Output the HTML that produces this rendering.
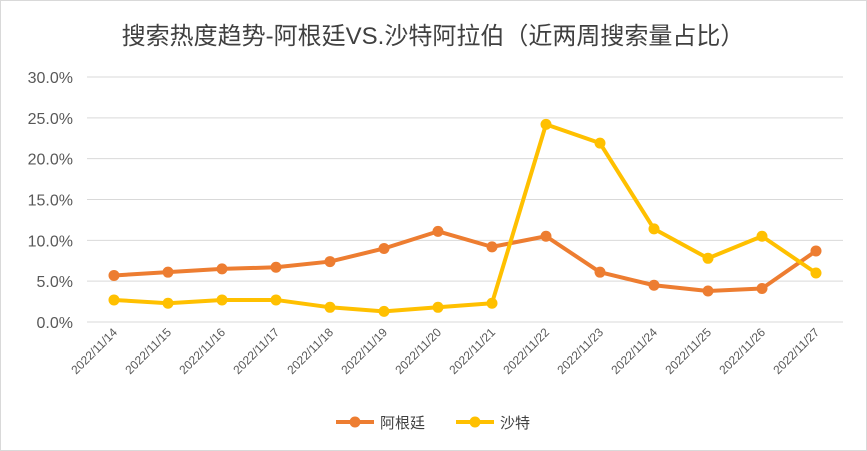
<!DOCTYPE html>
<html><head><meta charset="utf-8">
<style>
body{margin:0;background:#fff;}
svg{display:block;font-family:"Liberation Sans","Noto Sans CJK SC",sans-serif;}
</style></head>
<body>
<svg id="chart" width="867" height="451">
<rect x="0.5" y="0.5" width="866" height="450" fill="#fff" stroke="#d9d9d9"/>
<text x="433" y="44" text-anchor="middle" font-size="24" fill="#404040">搜索热度趋势-阿根廷VS.沙特阿拉伯（近两周搜索量占比）</text>
<g id="grid"></g><g id="xlabels"></g><g id="series"></g>
<g>
<g>
<line x1="336" y1="422" x2="374" y2="422" stroke="#ed7d31" stroke-width="4"/>
<circle cx="355" cy="422" r="5.5" fill="#ed7d31"/>
<text x="380" y="428" font-size="15" fill="#404040">阿根廷</text></g>
<g>
<line x1="456" y1="422" x2="494" y2="422" stroke="#ffc000" stroke-width="4"/>
<circle cx="475" cy="422" r="5.5" fill="#ffc000"/>
<text x="500" y="428" font-size="15" fill="#404040">沙特</text></g>
</g>
</svg>
<script>
const categories=["2022/11/14","2022/11/15","2022/11/16","2022/11/17","2022/11/18","2022/11/19","2022/11/20","2022/11/21","2022/11/22","2022/11/23","2022/11/24","2022/11/25","2022/11/26","2022/11/27"];
const argentina=[5.7,6.1,6.5,6.7,7.4,9.0,11.1,9.2,10.5,6.1,4.5,3.8,4.1,8.7];
const saudi=[2.7,2.3,2.7,2.7,1.8,1.3,1.8,2.3,24.2,21.9,11.4,7.8,10.5,6.0];
const yTicks=[0,5,10,15,20,25,30];
const NS="http://www.w3.org/2000/svg";
const x0=114,dx=54,yBase=322,yMax=30,yTop=77;
const xs=i=>x0+i*dx;
const ys=v=>yBase-(v/yMax)*(yBase-yTop);
function mk(t,a,p){const e=document.createElementNS(NS,t);for(const k in a)e.setAttribute(k,a[k]);p.appendChild(e);return e;}
const grid=document.getElementById('grid');
yTicks.forEach(t=>{
 const l=mk('line',{x1:87,x2:843,y1:ys(t),y2:ys(t),stroke:'#d9d9d9','stroke-width':1},grid);
 
 
 const tx=mk('text',{x:73,y:ys(t)+6,'text-anchor':'end','font-size':16,fill:'#595959'},grid);
 tx.textContent=t.toFixed(1)+'%';
 
 
});
const xl=document.getElementById('xlabels');
categories.forEach((c,i)=>{
 const t=mk('text',{x:xs(i)+4,y:333,'text-anchor':'end','font-size':12,fill:'#595959',transform:`rotate(-45 ${xs(i)+4} 333)`},xl);
 t.textContent=c;
 
 
});
const sg=document.getElementById('series');
function draw(data,color,name){
 const g=mk('g',{},sg);
 
 
 const p=mk('polyline',{points:data.map((v,i)=>xs(i)+','+ys(v)).join(' '),fill:'none',stroke:color,'stroke-width':4,'stroke-linejoin':'round'},g);
 
 
 data.forEach((v,i)=>{
  const c=mk('circle',{cx:xs(i),cy:ys(v),r:5.5,fill:color},g);
  
  
 });
}
draw(argentina,'#ed7d31','argentina');
draw(saudi,'#ffc000','saudi');
</script>
</body></html>
